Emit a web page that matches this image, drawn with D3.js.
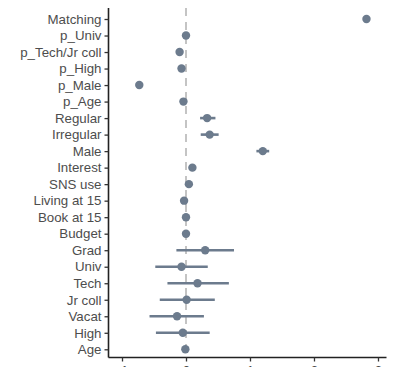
<!DOCTYPE html>
<html>
<head>
<meta charset="utf-8">
<script src="https://cdn.jsdelivr.net/npm/d3@7"></script>
<style>
  html, body { margin: 0; padding: 0; background: #fff; }
  svg { display: block; }
</style>
</head>
<body>
<svg id="chart" width="398" height="367"></svg>
<script>
const categories = ["Matching","p_Univ","p_Tech/Jr coll","p_High","p_Male","p_Age","Regular","Irregular","Male","Interest","SNS use","Living at 15","Book at 15","Budget","Grad","Univ","Tech","Jr coll","Vacat","High","Age"];
const estimates = [2.82, 0.00, -0.10, -0.07, -0.73, -0.04, 0.33, 0.37, 1.20, 0.10, 0.045, -0.03, 0.00, 0.00, 0.30, -0.07, 0.18, 0.01, -0.14, -0.05, -0.01];
const lowers    = [2.80, -0.02, -0.12, -0.09, -0.75, -0.06, 0.22, 0.23, 1.10, 0.08, 0.025, -0.05, -0.02, -0.02, -0.15, -0.48, -0.29, -0.41, -0.57, -0.47, -0.03];
const uppers    = [2.84, 0.02, -0.08, -0.05, -0.71, -0.02, 0.46, 0.51, 1.30, 0.12, 0.065, -0.01, 0.02, 0.02, 0.75, 0.34, 0.67, 0.45, 0.28, 0.37, 0.01];
const xTicks = [-1, 0, 1, 2, 3];
const xTickLabels = ["-1", "0", "1", "2", "3"];

const svg = d3.select("#chart");
const mLeft = 108.5, mRight = 386.5, mTop = 8, mBottom = 357.5;

const x = d3.scaleLinear().domain([-1.211, 3.133]).range([mLeft, mRight]);
const y = d3.scalePoint().domain(categories).range([19, 349.3]);

const col = "#6c7b8d";

// zero reference line
svg.append("line")
  .attr("x1", x(0)).attr("x2", x(0))
  .attr("y1", mTop).attr("y2", mBottom)
  .attr("stroke", "#c4c4c4").attr("stroke-width", 2)
  .attr("stroke-dasharray", "8,6");

const data = categories.map((c, i) => ({c, est: estimates[i], lo: lowers[i], hi: uppers[i]}));

svg.append("g").selectAll("line").data(data).join("line")
  .attr("x1", d => x(d.lo)).attr("x2", d => x(d.hi))
  .attr("y1", d => y(d.c)).attr("y2", d => y(d.c))
  .attr("stroke", col).attr("stroke-width", 2.6);

svg.append("g").selectAll("circle").data(data).join("circle")
  .attr("cx", d => x(d.est)).attr("cy", d => y(d.c))
  .attr("r", 4.2).attr("fill", col);

// y axis
const yAxis = svg.append("g").attr("transform", `translate(${mLeft},0)`)
  .call(d3.axisLeft(y).tickSize(4).tickPadding(3));
yAxis.select(".domain").attr("d", `M0,${mTop}V${mBottom}`).attr("stroke", "#222").attr("stroke-width", 1.6);
yAxis.selectAll(".tick line").attr("stroke", "#333").attr("stroke-width", 1.3);
yAxis.selectAll(".tick text")
  .attr("font-family", "Liberation Sans, Arial, sans-serif")
  .attr("font-size", "13.3px").attr("fill", "#4d4d4d");

// x axis
const xAxis = svg.append("g").attr("transform", `translate(0,${mBottom})`)
  .call(d3.axisBottom(x).tickValues(xTicks).tickFormat((d, i) => xTickLabels[i]).tickSize(4).tickPadding(4));
xAxis.select(".domain").attr("d", `M${mLeft},0H${mRight}`).attr("stroke", "#222").attr("stroke-width", 1.6);
xAxis.selectAll(".tick line").attr("stroke", "#333").attr("stroke-width", 1.3);
xAxis.selectAll(".tick text")
  .attr("font-family", "Liberation Sans, Arial, sans-serif")
  .attr("font-size", "13.3px").attr("fill", "#4d4d4d");
</script>
</body>
</html>
